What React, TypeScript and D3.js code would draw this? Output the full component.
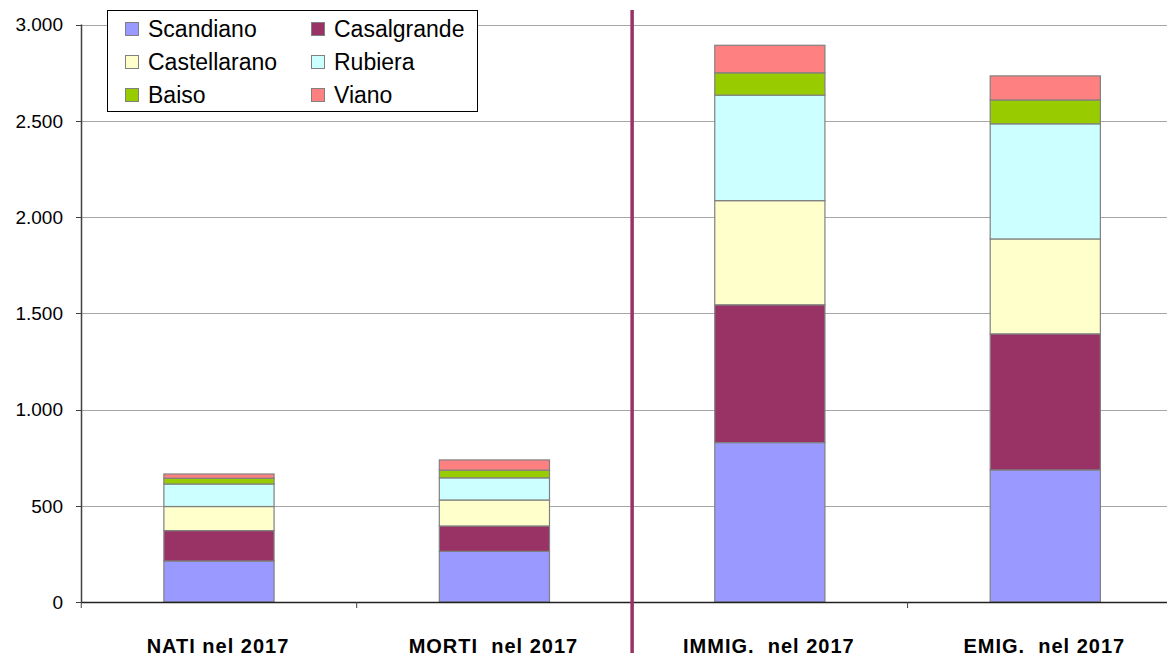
import React from "react";
import * as d3 from "d3";

const categories = ["NATI nel 2017", "MORTI  nel 2017", "IMMIG.  nel 2017", "EMIG.  nel 2017"];
const seriesNames = ["Scandiano", "Casalgrande", "Castellarano", "Rubiera", "Baiso", "Viano"];
const seriesColors = ["#9999FF", "#993366", "#FFFFCC", "#CCFFFF", "#99CC00", "#FF8080"];
const scandiano = [213, 263, 828, 686];
const casalgrande = [158, 132, 716, 707];
const castellarano = [125, 135, 541, 493];
const rubiera = [117, 115, 548, 598];
const baiso = [30, 40, 116, 124];
const viano = [22, 53, 143, 125];
const yTicks = [0, 500, 1000, 1500, 2000, 2500, 3000];
const yTickLabels = ["0", "500", "1.000", "1.500", "2.000", "2.500", "3.000"];

const W = 1167;
const H = 656;
const FONT = "'Liberation Sans', Arial, sans-serif";

export default function App() {
  const values = [scandiano, casalgrande, castellarano, rubiera, baiso, viano];
  const table = categories.map((c, i) => {
    const row: any = { cat: c };
    seriesNames.forEach((s, j) => (row[s] = values[j][i]));
    return row;
  });
  const stacked = d3.stack().keys(seriesNames)(table);

  const x = d3
    .scaleBand<string>()
    .domain(categories)
    .range([81.25, 1183])
    .paddingInner(0.6)
    .paddingOuter(0.3);
  const y = d3.scaleLinear().domain([0, 3000]).range([602, 24.5]);
  const x0 = 81.5;
  const step = x.step();
  const bandStart = (i: number) => 81.25 + i * step;
  const sepX = bandStart(2);

  return (
    <svg
      width={W}
      height={H}
      style={{ position: "absolute", left: 0, top: 0, background: "#fff" }}
      fontFamily={FONT}
    >
      <rect x={0} y={0} width={W} height={H} fill="#fff" />
      {/* gridlines */}
      {yTicks.slice(1).map((t) => (
        <line
          key={t}
          x1={x0}
          x2={W}
          y1={Math.round(y(t)) + 0.5}
          y2={Math.round(y(t)) + 0.5}
          stroke="#a6a6a6"
          strokeWidth={1}
        />
      ))}
      {/* bars */}
      {stacked.map((layer, j) =>
        layer.map((d, i) => (
          <rect
            key={`${j}-${i}`}
            x={x(categories[i])!}
            y={y(d[1])}
            width={x.bandwidth()}
            height={y(d[0]) - y(d[1])}
            fill={seriesColors[j]}
            stroke="#808080"
            strokeWidth={1.2}
          />
        ))
      )}
      {/* y axis */}
      <line x1={x0} x2={x0} y1={y(3000)} y2={y(0)} stroke="#404040" strokeWidth={1.5} />
      {yTicks.map((t, i) => (
        <g key={t}>
          <line x1={76} x2={x0} y1={Math.round(y(t)) + 0.5} y2={Math.round(y(t)) + 0.5} stroke="#404040" />
          <text
            x={63}
            y={y(t)}
            dy="0.36em"
            textAnchor="end"
            fontSize={19}
            fill="#000"
          >
            {yTickLabels[i]}
          </text>
        </g>
      ))}
      {/* x axis */}
      <line x1={x0} x2={W} y1={602.5} y2={602.5} stroke="#202020" strokeWidth={1.5} />
      {[0, 1, 2, 3].map((i) => (
        <line
          key={i}
          x1={bandStart(i)}
          x2={bandStart(i)}
          y1={602}
          y2={608}
          stroke="#404040"
        />
      ))}
      {categories.map((c) => (
        <text
          key={c}
          x={x(c)! + x.bandwidth() / 2 - 1}
          y={653}
          textAnchor="middle"
          fontSize={20}
          fontWeight="bold"
          letterSpacing={1}
          style={{ whiteSpace: "pre" }}
          fill="#000"
        >
          {c}
        </text>
      ))}
      {/* separator */}
      <line x1={sepX} x2={sepX} y1={10} y2={653} stroke="#993366" strokeWidth={3.5} />
      {/* legend */}
      <rect x={107.5} y={10.5} width={370} height={101} fill="#fff" stroke="#000" strokeWidth={1} />
      {seriesNames.map((s, j) => {
        const col = j % 2;
        const row = Math.floor(j / 2);
        const sx = col === 0 ? 125 : 311;
        const cy = 29 + row * 33;
        return (
          <g key={s}>
            <rect
              x={sx + 0.5}
              y={cy - 7 + 0.5}
              width={13}
              height={13}
              fill={seriesColors[j]}
              stroke="#808080"
              strokeWidth={1}
            />
            <text x={sx + 23} y={cy} dy="0.36em" fontSize={23} fill="#000">
              {s}
            </text>
          </g>
        );
      })}
    </svg>
  );
}
